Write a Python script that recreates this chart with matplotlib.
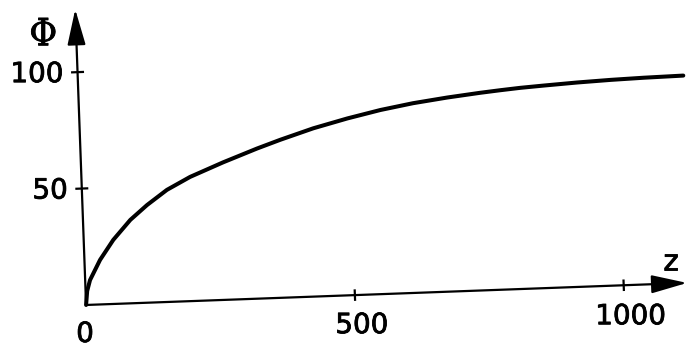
import matplotlib
matplotlib.use('Agg')
import matplotlib.pyplot as plt
import matplotlib.transforms as mtransforms
import matplotlib.patheffects as pe
from matplotlib.patches import FancyArrowPatch

# ---- data ----
z_vals = [0, 3, 9, 29, 55, 88, 120, 158, 202, 264, 328, 372, 434, 498, 560,
          621, 685, 746, 784, 821, 864, 927, 990, 1051, 1125]
phi_vals = [0, 6, 10.6, 19.1, 27.5, 35.8, 41.9, 48.1, 53.3, 59.0, 64.4, 67.8,
            72.2, 75.9, 79.0, 81.4, 83.3, 84.8, 85.6, 86.3, 86.9, 87.7, 88.3,
            88.7, 89.0]
x_ticks = [0, 500, 1000]
x_tick_labels = ['0', '500', '1000']
y_ticks = [50, 100]
y_tick_labels = ['50', '100']
x_label = 'z'
y_label = 'Φ'

# ---- figure ----
fig = plt.figure(figsize=(6.87, 3.49), dpi=100)
fig.patch.set_facecolor('white')
ax = fig.add_axes([0, 0, 1, 1])
ax.set_xlim(-160, 1117)
ax.set_ylim(-18.9, 130.9)
ax.axis('off')

# the scanned figure is slightly rotated (about 2 degrees counter-clockwise)
x0, y0 = ax.transData.transform((0, 0))
rot = mtransforms.Affine2D().rotate_deg_around(x0, y0, 2.1)
tr = ax.transData + rot

# curve
ax.plot(z_vals, phi_vals, color='black', lw=2.9, transform=tr, clip_on=False,
        solid_capstyle='round', solid_joinstyle='round')

# axes with arrows
for tip in [(1118, 0), (0, 127)]:
    arr = FancyArrowPatch((0, 0), tip, transform=tr,
                          arrowstyle='-|>,head_length=1.1,head_width=0.28',
                          mutation_scale=20, lw=1.6, color='black',
                          shrinkA=0, shrinkB=0, clip_on=False)
    ax.add_patch(arr)

# ticks
for t in x_ticks[1:]:
    ax.plot([t, t], [-2.0, 2.0], transform=tr, color='black', lw=1.6, clip_on=False)
for t in y_ticks:
    ax.plot([-10, 10], [t, t], transform=tr, color='black', lw=1.6, clip_on=False)

bold = [pe.withStroke(linewidth=0.6, foreground='black')]

# tick labels
x_offsets = {'0': (-1, -37), '500': (7, -38), '1000': (7, -39)}
for t, lab in zip(x_ticks, x_tick_labels):
    ax.annotate(lab, xy=(t, 0), xycoords=tr, xytext=x_offsets[lab],
                textcoords='offset pixels', ha='center', va='baseline',
                fontsize=20, family='DejaVu Sans', annotation_clip=False,
                path_effects=bold)
for t, lab in zip(y_ticks, y_tick_labels):
    ax.annotate(lab, xy=(0, t), xycoords=tr, xytext=(-14, -10),
                textcoords='offset pixels', ha='right', va='baseline',
                fontsize=20, family='DejaVu Sans', annotation_clip=False,
                path_effects=bold)

# axis labels
ax.annotate(y_label, xy=(0, 127), xycoords=tr, xytext=(-32, -36),
            textcoords='offset pixels', ha='center', va='baseline',
            fontsize=27, family='DejaVu Serif', stretch='condensed',
            annotation_clip=False, path_effects=bold)
ax.annotate(x_label, xy=(1090, 0), xycoords=tr, xytext=(-1, 13),
            textcoords='offset pixels', ha='center', va='baseline',
            fontsize=21, family='DejaVu Sans', annotation_clip=False,
            path_effects=bold)

fig.savefig('out.png', dpi=100, facecolor='white')
